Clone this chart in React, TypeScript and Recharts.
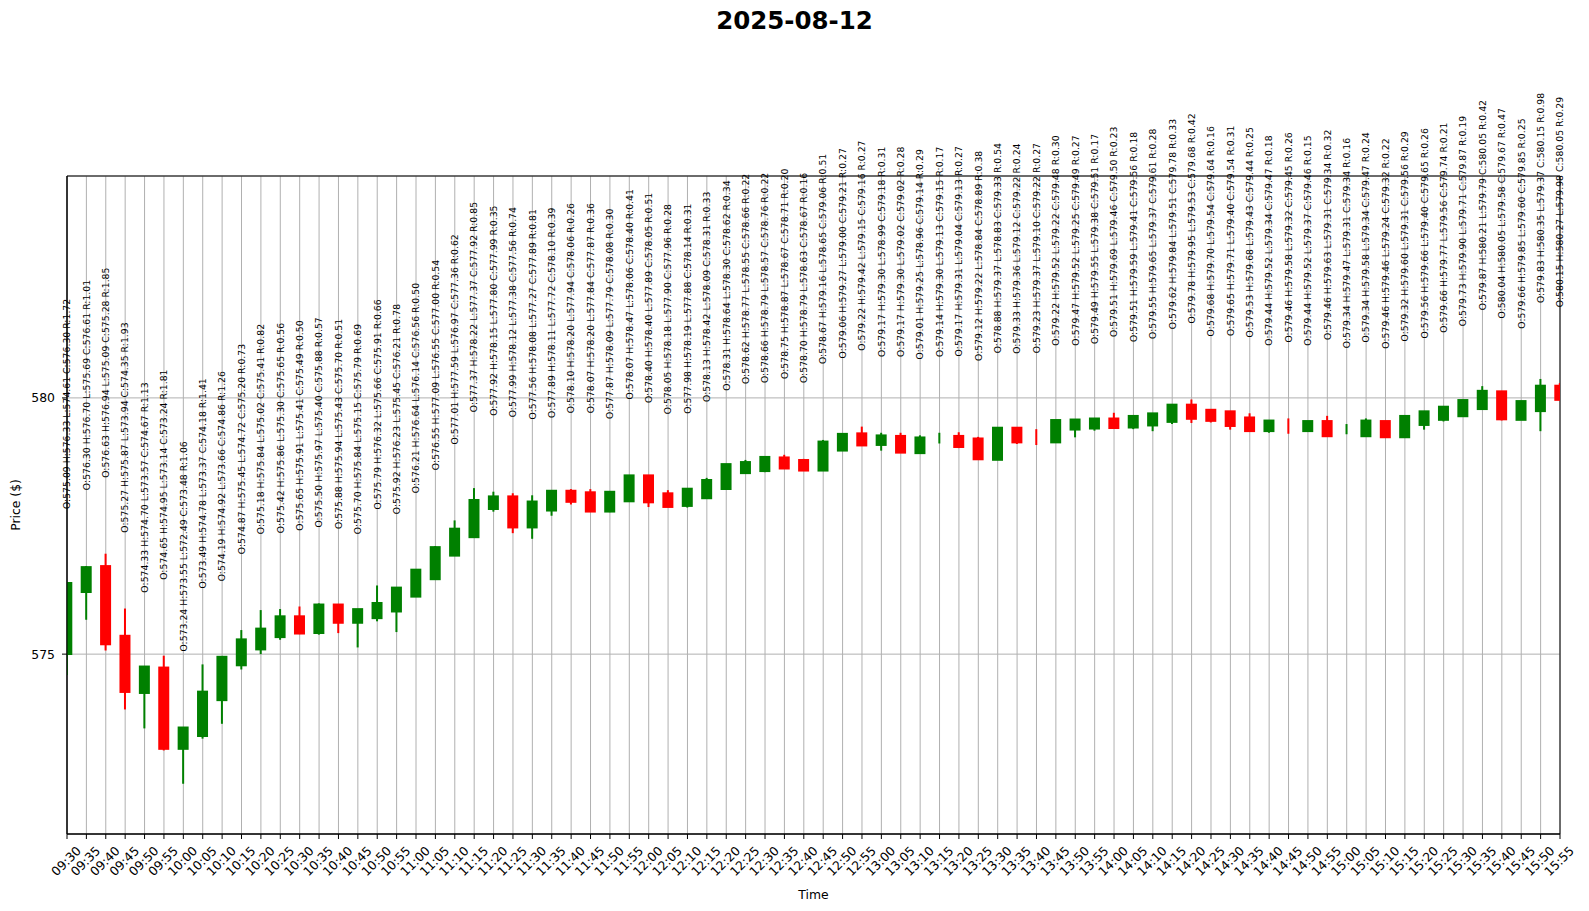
import React from 'react'
import { ComposedChart, Bar, XAxis, YAxis, CartesianGrid, ReferenceArea } from 'recharts'

const times = [
  '09:30', '09:35', '09:40', '09:45', '09:50', '09:55', '10:00', '10:05', '10:10', '10:15',
  '10:20', '10:25', '10:30', '10:35', '10:40', '10:45', '10:50', '10:55', '11:00', '11:05',
  '11:10', '11:15', '11:20', '11:25', '11:30', '11:35', '11:40', '11:45', '11:50', '11:55',
  '12:00', '12:05', '12:10', '12:15', '12:20', '12:25', '12:30', '12:35', '12:40', '12:45',
  '12:50', '12:55', '13:00', '13:05', '13:10', '13:15', '13:20', '13:25', '13:30', '13:35',
  '13:40', '13:45', '13:50', '13:55', '14:00', '14:05', '14:10', '14:15', '14:20', '14:25',
  '14:30', '14:35', '14:40', '14:45', '14:50', '14:55', '15:00', '15:05', '15:10', '15:15',
  '15:20', '15:25', '15:30', '15:35', '15:40', '15:45', '15:50', '15:55',
]

const opens = [
  575.09, 576.30, 576.63, 575.27, 574.33, 574.65, 573.24, 573.49, 574.19, 574.87,
  575.18, 575.42, 575.65, 575.50, 575.88, 575.70, 575.79, 575.92, 576.21, 576.55,
  577.01, 577.37, 577.92, 577.99, 577.56, 577.89, 578.10, 578.07, 577.87, 578.07,
  578.40, 578.05, 577.98, 578.13, 578.31, 578.62, 578.66, 578.75, 578.70, 578.67,
  579.06, 579.22, 579.17, 579.17, 579.01, 579.144, 579.17, 579.12, 578.88, 579.33,
  579.226, 579.22, 579.47, 579.49, 579.51, 579.51, 579.55, 579.62, 579.78, 579.68,
  579.65, 579.53, 579.44, 579.456, 579.44, 579.46, 579.34, 579.34, 579.46, 579.32,
  579.56, 579.66, 579.73, 579.87, 580.04, 579.66, 579.83, 580.15,
]

const highs = [
  576.33, 576.70, 576.94, 575.87, 574.70, 574.95, 573.55, 574.78, 574.92, 575.45,
  575.84, 575.86, 575.91, 575.97, 575.94, 575.84, 576.32, 576.23, 576.64, 577.09,
  577.59, 578.22, 578.15, 578.12, 578.08, 578.11, 578.20, 578.20, 578.09, 578.47,
  578.40, 578.18, 578.19, 578.42, 578.64, 578.77, 578.79, 578.87, 578.79, 579.16,
  579.27, 579.42, 579.30, 579.30, 579.25, 579.30, 579.31, 579.22, 579.37, 579.36,
  579.37, 579.52, 579.52, 579.55, 579.69, 579.59, 579.65, 579.84, 579.95, 579.70,
  579.71, 579.68, 579.52, 579.58, 579.52, 579.63, 579.47, 579.58, 579.46, 579.60,
  579.66, 579.77, 579.90, 580.21, 580.05, 579.85, 580.35, 580.27,
]

const lows = [
  574.61, 575.69, 575.09, 573.94, 573.57, 573.14, 572.49, 573.37, 573.66, 574.72,
  575.02, 575.30, 575.41, 575.40, 575.43, 575.15, 575.66, 575.45, 576.14, 576.55,
  576.97, 577.37, 577.80, 577.38, 577.27, 577.72, 577.94, 577.84, 577.79, 578.06,
  577.89, 577.90, 577.88, 578.09, 578.30, 578.55, 578.57, 578.67, 578.63, 578.65,
  579.00, 579.15, 578.99, 579.02, 578.96, 579.13, 579.04, 578.84, 578.83, 579.12,
  579.10, 579.22, 579.25, 579.38, 579.46, 579.41, 579.37, 579.51, 579.53, 579.54,
  579.40, 579.43, 579.34, 579.32, 579.37, 579.31, 579.31, 579.34, 579.24, 579.31,
  579.40, 579.56, 579.71, 579.79, 579.58, 579.60, 579.37, 579.98,
]

const closes = [
  576.30, 576.61, 575.28, 574.35, 574.67, 573.24, 573.48, 574.18, 574.86, 575.20,
  575.41, 575.65, 575.49, 575.88, 575.70, 575.79, 575.91, 576.21, 576.56, 577.00,
  577.36, 577.92, 577.99, 577.56, 577.89, 578.10, 578.06, 577.87, 578.08, 578.40,
  578.05, 577.96, 578.14, 578.31, 578.62, 578.66, 578.76, 578.71, 578.67, 579.06,
  579.21, 579.16, 579.18, 579.02, 579.14, 579.146, 579.13, 578.89, 579.33, 579.22,
  579.224, 579.48, 579.49, 579.51, 579.50, 579.56, 579.61, 579.78, 579.68, 579.64,
  579.54, 579.44, 579.47, 579.454, 579.46, 579.34, 579.34, 579.47, 579.32, 579.56,
  579.65, 579.74, 579.87, 580.05, 579.67, 579.85, 580.15, 580.05,
]

const ranges = [
  1.72, 1.01, 1.85, 1.93, 1.13, 1.81, 1.06, 1.41, 1.26, 0.73,
  0.82, 0.56, 0.50, 0.57, 0.51, 0.69, 0.66, 0.78, 0.50, 0.54,
  0.62, 0.85, 0.35, 0.74, 0.81, 0.39, 0.26, 0.36, 0.30, 0.41,
  0.51, 0.28, 0.31, 0.33, 0.34, 0.22, 0.22, 0.20, 0.16, 0.51,
  0.27, 0.27, 0.31, 0.28, 0.29, 0.17, 0.27, 0.38, 0.54, 0.24,
  0.27, 0.30, 0.27, 0.17, 0.23, 0.18, 0.28, 0.33, 0.42, 0.16,
  0.31, 0.25, 0.18, 0.26, 0.15, 0.32, 0.16, 0.24, 0.22, 0.29,
  0.26, 0.21, 0.19, 0.42, 0.47, 0.25, 0.98, 0.29,
]

const yDomain: [number, number] = [571.49, 584.33]
const yTicks = [575, 580]
const labelOffset = 1.5 // annotation sits this far (in $) above the high

const FONT = 'DejaVu Sans'
const PLOT_LEFT = 67
const PLOT_RIGHT = 1560

const data = times.map((t, i) => ({
  i,
  time: t,
  open: opens[i],
  high: highs[i],
  low: lows[i],
  close: closes[i],
  range: ranges[i],
  span: [lows[i], highs[i]],
}))

const clampX = (a: number, b: number) => [Math.max(a, PLOT_LEFT), Math.min(b, PLOT_RIGHT)]

// one candle: wick + thick body (with matplotlib-like projecting caps) + rotated OHLC note
const Candle = (props: any) => {
  const { x, y, width, height, payload } = props
  if (payload == null) return null
  const { open, high, low, close, range } = payload
  const cx = x + width / 2
  const top = Math.min(y, y + height)
  const k = Math.abs(height) / (high - low)
  const py = (v: number) => top + (high - v) * k
  const color = close >= open ? '#008000' : '#ff0000'

  const [wx0, wx1] = clampX(cx - 1, cx + 1)
  const yO = py(open)
  const yC = py(close)
  const bTop = Math.min(yO, yC)
  const bBot = Math.max(yO, yC)
  const hasBody = bBot - bTop >= 0.3
  const [bx0, bx1] = clampX(cx - 5.5, cx + 5.5)
  const ly = py(high + labelOffset)
  const txt = `O:${open.toFixed(2)} H:${high.toFixed(2)} L:${low.toFixed(2)} C:${close.toFixed(2)} R:${range.toFixed(2)}`

  return (
    <g>
      <rect x={wx0} y={py(high) - 1} width={wx1 - wx0} height={py(low) - py(high) + 2} fill={color} />
      {hasBody && (
        <rect x={bx0} y={bTop - 5.5} width={bx1 - bx0} height={bBot - bTop + 11} fill={color} />
      )}
      <text
        x={cx}
        y={ly}
        transform={`rotate(-90 ${cx} ${ly})`}
        textAnchor="start"
        dominantBaseline="central"
        fontSize={9.3}
        fontFamily={FONT}
        fill="#000"
      >
        {txt}
      </text>
    </g>
  )
}

const TimeTick = (props: any) => {
  const { x, y, payload } = props
  const cy = y + 20
  const cx = x - 1
  return (
    <text
      x={cx}
      y={cy}
      transform={`rotate(-45 ${cx} ${cy})`}
      textAnchor="middle"
      dominantBaseline="central"
      fontSize={12.4}
      fontFamily={FONT}
      fill="#000"
    >
      {times[payload.value]}
    </text>
  )
}

export default function App() {
  return (
    <div style={{ position: 'absolute', left: 0, top: 0, width: 1589, height: 911, background: '#fff', fontFamily: FONT }}>
      <div
        style={{
          position: 'absolute',
          left: 0,
          top: 0,
          width: 1589,
          textAlign: 'center',
          fontSize: 24.5,
          fontWeight: 'bold',
          lineHeight: '42px',
          color: '#000',
        }}
      >
        2025-08-12
      </div>
      <ComposedChart
        width={1589}
        height={911}
        data={data}
        margin={{ top: 176, right: 29, bottom: 0, left: 0 }}
      >
        <CartesianGrid stroke="#b0b0b0" strokeWidth={1} />
        <XAxis
          dataKey="i"
          type="number"
          domain={[0, times.length - 1]}
          ticks={data.map((d) => d.i)}
          interval={0}
          height={77}
          tickSize={5}
          stroke="#000"
          tick={<TimeTick />}
          label={{ value: 'Time', position: 'insideBottom', offset: 12, fontSize: 12.4, fill: '#000', fontFamily: FONT }}
        />
        <YAxis
          type="number"
          domain={yDomain}
          ticks={yTicks}
          width={67}
          tickSize={5}
          tickMargin={7}
          stroke="#000"
          tick={{ fontSize: 12.4, fill: '#000', fontFamily: FONT }}
          label={{
            value: 'Price ($)',
            angle: -90,
            position: 'insideLeft',
            offset: 16,
            fontSize: 12.4,
            fill: '#000',
            fontFamily: FONT,
            style: { textAnchor: 'middle' },
          }}
        />
        <ReferenceArea
          x1={0}
          x2={times.length - 1}
          y1={yDomain[0]}
          y2={yDomain[1]}
          fill="none"
          fillOpacity={0}
          stroke="#000"
          strokeWidth={1}
        />
        <Bar dataKey="span" barSize={11} shape={<Candle />} isAnimationActive={false} />
      </ComposedChart>
    </div>
  )
}
